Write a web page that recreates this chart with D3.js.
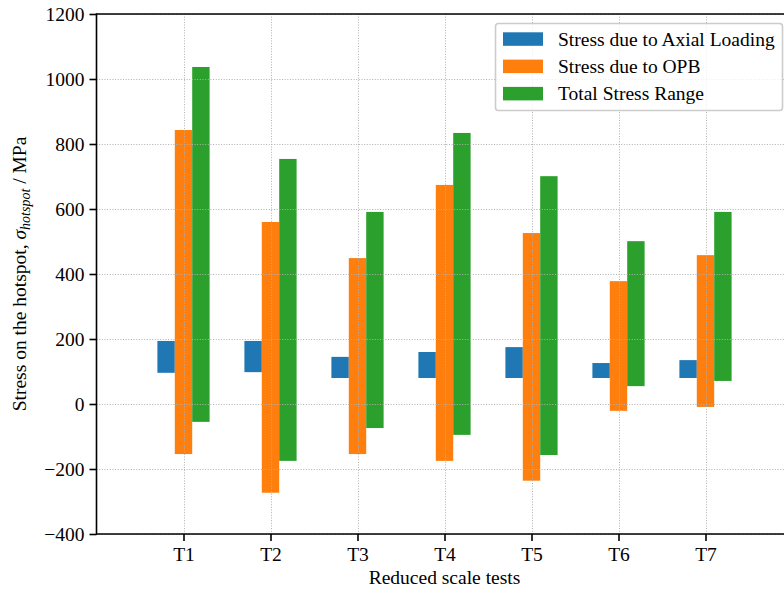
<!DOCTYPE html>
<html>
<head>
<meta charset="utf-8">
<script src="https://cdn.jsdelivr.net/npm/d3@7"></script>
<style>
  html, body { margin: 0; padding: 0; background: #fff; }
  svg { display: block; font-family: "Liberation Serif", "DejaVu Serif", serif; }
</style>
</head>
<body>
<svg id="chart" width="784" height="593"></svg>
<script>
// Reduced scale tests and their hotspot stress ranges (MPa): each bar spans min..max
const tests = ["T1", "T2", "T3", "T4", "T5", "T6", "T7"];
const axialMin = [96, 98, 80, 80, 80, 80, 80];
const axialMax = [194, 194, 145, 160, 175, 126, 135];
const opbMin = [-154, -273, -154, -175, -236, -21, -9];
const opbMax = [843, 560, 449, 674, 526, 378, 458];
const totalMin = [-55, -175, -74, -95, -157, 55, 71];
const totalMax = [1037, 754, 591, 834, 701, 501, 591];
const yTicks = [-400, -200, 0, 200, 400, 600, 800, 1000, 1200];

const seriesNames = ["Stress due to Axial Loading", "Stress due to OPB", "Total Stress Range"];
const seriesColors = ["#1f77b4", "#ff7f0e", "#2ca02c"];
const seriesOffsets = [-0.2, 0, 0.2];
const barWidth = 0.2;

const series = [
  { name: seriesNames[0], color: seriesColors[0], offset: seriesOffsets[0], lo: axialMin, hi: axialMax },
  { name: seriesNames[1], color: seriesColors[1], offset: seriesOffsets[1], lo: opbMin, hi: opbMax },
  { name: seriesNames[2], color: seriesColors[2], offset: seriesOffsets[2], lo: totalMin, hi: totalMax }
];

const FS = "19.5px";
const svg = d3.select("#chart");
const plotL = 96.5, plotR = 792.5, plotT = 14, plotB = 534;

const x = d3.scaleLinear().domain([0, 8]).range([plotL, plotR]);
const y = d3.scaleLinear().domain([-400, 1200]).range([plotB, plotT]);
const fmt = d => (d < 0 ? "\u2212" + Math.abs(d) : String(d));

// floating range bars
series.forEach(s => {
  svg.append("g")
    .selectAll("rect")
    .data(tests.map((t, i) => ({ i, lo: s.lo[i], hi: s.hi[i] })))
    .join("rect")
    .attr("x", d => x(d.i + 1 + s.offset - barWidth / 2))
    .attr("width", x(barWidth) - x(0))
    .attr("y", d => y(d.hi))
    .attr("height", d => y(d.lo) - y(d.hi))
    .attr("fill", s.color);
});

// dotted grid drawn over the bars
const grid = svg.append("g")
  .attr("stroke", "#b0b0b0")
  .attr("stroke-width", 1)
  .attr("stroke-dasharray", "1,1.65")
  .attr("fill", "none");
grid.selectAll("line.h").data(yTicks).join("line")
  .attr("class", "h")
  .attr("x1", plotL).attr("x2", plotR)
  .attr("y1", d => Math.round(y(d)) + 0.5).attr("y2", d => Math.round(y(d)) + 0.5);
grid.selectAll("line.v").data(tests).join("line")
  .attr("class", "v")
  .attr("x1", (d, i) => Math.round(x(i + 1)) + 0.5).attr("x2", (d, i) => Math.round(x(i + 1)) + 0.5)
  .attr("y1", plotT).attr("y2", plotB);

// axes
const yAxis = svg.append("g")
  .attr("transform", `translate(${plotL},0)`)
  .call(d3.axisLeft(y).tickValues(yTicks).tickFormat(fmt).tickSize(7).tickPadding(5));
const xAxis = svg.append("g")
  .attr("transform", `translate(0,${plotB})`)
  .call(d3.axisBottom(x).tickValues(d3.range(1, tests.length + 1))
    .tickFormat(d => tests[d - 1]).tickSize(7).tickPadding(6));

[yAxis, xAxis].forEach(a => {
  a.attr("font-family", null).attr("font-size", null);
  a.select(".domain").remove();
  a.selectAll(".tick line").attr("stroke", "#000").attr("stroke-width", 1.6);
  a.selectAll(".tick text")
    .attr("fill", "#000")
    .style("font-family", '"Liberation Serif", serif')
    .style("font-size", FS);
});

// spines: left, bottom, top
const spines = svg.append("g").attr("stroke", "#000").attr("stroke-width", 1.6).attr("fill", "none");
spines.append("line").attr("x1", plotL).attr("x2", plotL).attr("y1", plotT - 0.8).attr("y2", plotB + 0.8);
spines.append("line").attr("x1", plotL).attr("x2", plotR).attr("y1", plotB).attr("y2", plotB);
spines.append("line").attr("x1", plotL).attr("x2", plotR).attr("y1", plotT).attr("y2", plotT);

// axis titles
svg.append("text")
  .attr("x", (plotL + plotR) / 2)
  .attr("y", 584)
  .attr("text-anchor", "middle")
  .style("font-size", FS)
  .text("Reduced scale tests");

const ylab = svg.append("text")
  .attr("transform", `translate(26,${(plotT + plotB) / 2}) rotate(-90)`)
  .attr("text-anchor", "middle")
  .style("font-size", FS);
ylab.append("tspan").text("Stress on the hotspot, ");
ylab.append("tspan").style("font-style", "italic").text("\u03c3");
ylab.append("tspan").style("font-style", "italic").style("font-size", "14px")
  .attr("dy", 4).text("hotspot");
ylab.append("tspan").attr("dy", -4).text(" / MPa");

// legend
const lg = svg.append("g");
lg.append("rect")
  .attr("x", 495.5).attr("y", 23.5)
  .attr("width", 287).attr("height", 87)
  .attr("rx", 3).attr("ry", 3)
  .attr("fill", "#fff").attr("fill-opacity", 0.8)
  .attr("stroke", "#cccccc").attr("stroke-width", 1.6);
series.forEach((s, i) => {
  const cy = 39 + i * 27.3;
  lg.append("rect")
    .attr("x", 503).attr("y", cy - 6.7)
    .attr("width", 40).attr("height", 13.5)
    .attr("fill", s.color);
  lg.append("text")
    .attr("x", 558).attr("y", cy + 6.5)
    .style("font-size", FS)
    .text(s.name);
});
</script>
</body>
</html>
